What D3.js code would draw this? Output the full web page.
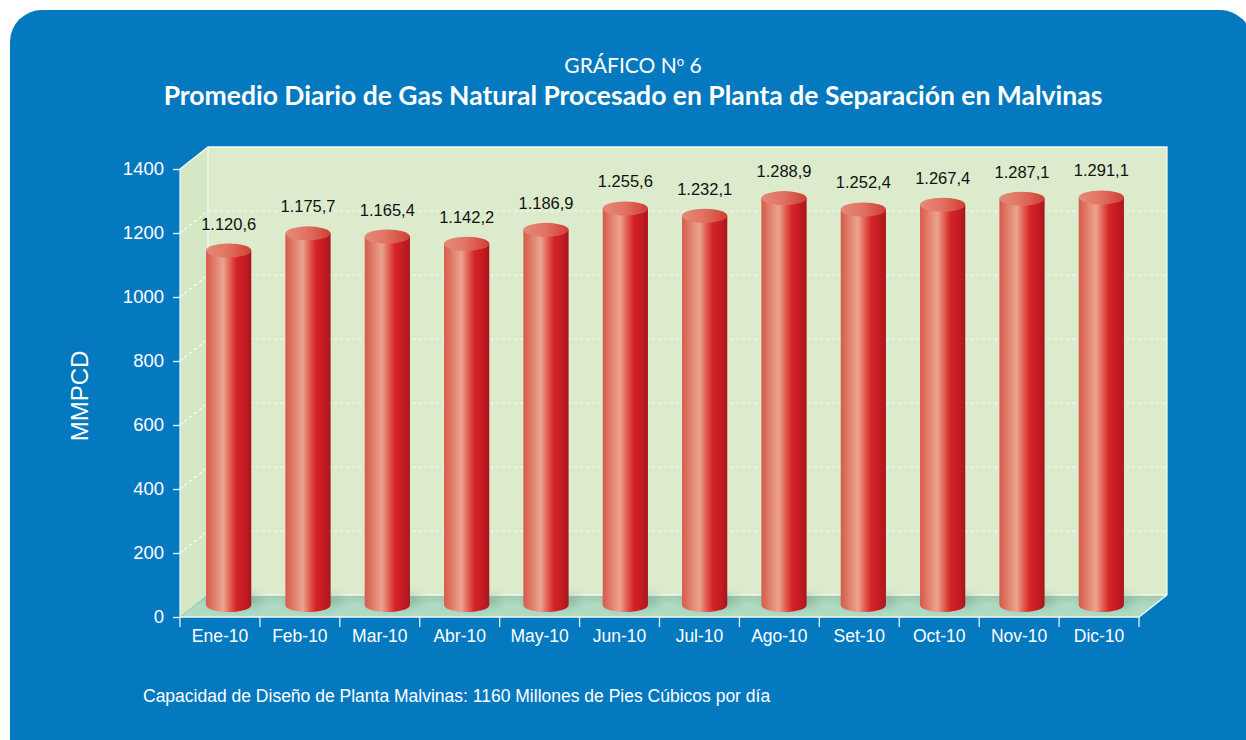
<!DOCTYPE html>
<html>
<head>
<meta charset="utf-8">
<script src="https://cdn.jsdelivr.net/npm/d3@7"></script>
<style>
  body { margin: 0; background: #fff; }
  text { font-family: "Liberation Sans", Arial, sans-serif; }
  .titulo { font-family: Lato, "Open Sans", sans-serif; }
</style>
</head>
<body>
<div id="container"></div>
<script>
// Data
var categorias = ["Ene-10", "Feb-10", "Mar-10", "Abr-10", "May-10", "Jun-10",
  "Jul-10", "Ago-10", "Set-10", "Oct-10", "Nov-10", "Dic-10"];
var valores = [1120.6, 1175.7, 1165.4, 1142.2, 1186.9, 1255.6,
  1232.1, 1288.9, 1252.4, 1267.4, 1287.1, 1291.1];
var yTicks = [0, 200, 400, 600, 800, 1000, 1200, 1400];

var subtitulo = "GRÁFICO N";
var titulo = "Promedio Diario de Gas Natural Procesado en Planta de Separación en Malvinas";
var ejeY = "MMPCD";
var nota = "Capacidad de Diseño de Planta Malvinas: 1160 Millones de Pies Cúbicos por día";

var W = 1246, H = 740;
var pLeft = 180, pRight = 1139, pBottom = 617, pTop = 169;
var dx = 28, dy = -22;   // depth of the 3D box

var fmt = d3.formatLocale({ decimal: ",", thousands: ".", grouping: [3], currency: ["", ""] }).format(",.1f");

var svg = d3.select("#container").append("svg")
  .attr("width", W).attr("height", H);

var defs = svg.append("defs");

var gBody = defs.append("linearGradient").attr("id", "cyl").attr("x1", 0).attr("x2", 1).attr("y1", 0).attr("y2", 0);
[[0, "#d65a4b"], [0.18, "#e07e6a"], [0.38, "#eba48f"], [0.55, "#e0584c"], [0.68, "#d4222a"], [0.85, "#c51b23"], [1, "#a8161c"]]
  .forEach(function (s) { gBody.append("stop").attr("offset", s[0]).attr("stop-color", s[1]); });

var gTop = defs.append("linearGradient").attr("id", "cylTop").attr("x1", 0).attr("x2", 1).attr("y1", 0).attr("y2", 0);
[[0, "#e58a78"], [0.45, "#e27464"], [1, "#cf3e35"]]
  .forEach(function (s) { gTop.append("stop").attr("offset", s[0]).attr("stop-color", s[1]); });

var gFloor = defs.append("linearGradient").attr("id", "floor").attr("x1", 0).attr("x2", 0).attr("y1", 0).attr("y2", 1);
[[0, "#9fc9b2"], [0.45, "#afdac2"], [1, "#b1dcc4"]]
  .forEach(function (s) { gFloor.append("stop").attr("offset", s[0]).attr("stop-color", s[1]); });

var blur = defs.append("filter").attr("id", "blur").attr("x", "-50%").attr("y", "-50%").attr("width", "200%").attr("height", "200%");
blur.append("feGaussianBlur").attr("stdDeviation", 4);

// blue panel
svg.append("rect")
  .attr("x", 10).attr("y", 10).attr("width", 1242).attr("height", 770)
  .attr("rx", 32).attr("fill", "#0479bf");

// Scales
var y = d3.scaleLinear().domain([0, 1400]).range([pBottom, pTop]);
var x = d3.scaleBand().domain(categorias).range([pLeft, pRight]);
var xBar = d3.scaleBand().domain(categorias).range([189, 1141]).paddingInner(0.43).paddingOuter(0.215);
var yBar = d3.scaleLinear().domain([0, 1400]).range([599.5, 163.5]);
var barBase = 605;

// side wall
svg.append("polygon")
  .attr("points", [[pLeft, pBottom], [pLeft, pTop], [pLeft + dx, pTop + dy], [pLeft + dx, pBottom + dy]].join(" "))
  .attr("fill", "#d5e8c6");

// back wall
svg.append("rect")
  .attr("x", pLeft + dx).attr("y", pTop + dy)
  .attr("width", pRight - pLeft).attr("height", pBottom - pTop)
  .attr("fill", "#dbebcb");

// floor
svg.append("polygon")
  .attr("points", [[pLeft, pBottom], [pRight, pBottom], [pRight + dx, pBottom + dy], [pLeft + dx, pBottom + dy]].join(" "))
  .attr("fill", "url(#floor)");

// grid lines
var grid = svg.append("g").attr("class", "grid");
grid.selectAll("path")
  .data(yTicks.filter(function (d) { return d > 0 && d < 1400; }))
  .enter().append("path")
  .attr("d", function (d) {
    return "M" + pLeft + "," + y(d) + "L" + (pLeft + dx) + "," + (y(d) + dy) + "L" + (pRight + dx) + "," + (y(d) + dy);
  })
  .attr("fill", "none")
  .attr("stroke", "#ffffff")
  .attr("stroke-width", 1.2)
  .attr("stroke-dasharray", "3,3")
  .attr("opacity", 0.9);

// box edges
var edges = svg.append("g").attr("stroke", "#f4f9ee").attr("stroke-width", 1.3).attr("fill", "none");
edges.append("path").attr("d",
  "M" + pLeft + "," + pTop + "L" + (pLeft + dx) + "," + (pTop + dy) + "L" + (pRight + dx) + "," + (pTop + dy) +
  "L" + (pRight + dx) + "," + (pBottom + dy));
edges.append("path").attr("d", "M" + (pLeft + dx) + "," + (pTop + dy) + "L" + (pLeft + dx) + "," + (pBottom + dy) + "L" + (pRight + dx) + "," + (pBottom + dy));
edges.append("path").attr("d", "M" + pLeft + "," + pBottom + "L" + pRight + "," + pBottom + "L" + (pRight + dx) + "," + (pBottom + dy));

// bar shadows on floor
svg.append("g").selectAll("ellipse")
  .data(valores)
  .enter().append("ellipse")
  .attr("cx", function (d, i) { return xBar(categorias[i]) + xBar.bandwidth() / 2 + 6; })
  .attr("cy", barBase - 4)
  .attr("rx", xBar.bandwidth() / 2 + 6)
  .attr("ry", 8)
  .attr("fill", "#5f8f78")
  .attr("opacity", 0.35)
  .attr("filter", "url(#blur)");

// cylinders
var bars = svg.append("g").selectAll("g")
  .data(valores)
  .enter().append("g")
  .attr("transform", function (d, i) { return "translate(" + (xBar(categorias[i]) + xBar.bandwidth() / 2) + ",0)"; });

var rx = xBar.bandwidth() / 2, ry = 7;

bars.append("path")
  .attr("d", function (d) {
    var t = yBar(d);
    return "M" + (-rx) + "," + t + "L" + (-rx) + "," + barBase +
      "A" + rx + "," + ry + " 0 0 0 " + rx + "," + barBase +
      "L" + rx + "," + t + "Z";
  })
  .attr("fill", "url(#cyl)");

bars.append("ellipse")
  .attr("cx", 0)
  .attr("cy", function (d) { return yBar(d); })
  .attr("rx", rx).attr("ry", ry)
  .attr("fill", "url(#cylTop)");

bars.append("text")
  .attr("x", 0)
  .attr("y", function (d) { return yBar(d) - 21; })
  .attr("text-anchor", "middle")
  .attr("font-size", "16.5px")
  .attr("fill", "#111")
  .text(function (d) { return fmt(d); });

// Y axis
var yAxis = d3.axisLeft(y).tickValues(yTicks).tickFormat(d3.format("d")).tickSize(7).tickPadding(9);
var gy = svg.append("g")
  .attr("transform", "translate(" + pLeft + ",0)")
  .call(yAxis);
gy.select(".domain").attr("stroke", "#e8f2f8").attr("stroke-width", 1.3).attr("d", "M0," + pTop + "V" + pBottom);
gy.selectAll(".tick line").attr("stroke", "#e8f2f8").attr("stroke-width", 1.3);
gy.selectAll(".tick text")
  .attr("fill", "#fff")
  .attr("font-size", "18.5px")
  .attr("font-family", "Liberation Sans, Arial, sans-serif");

// X axis
var xAxis = d3.axisBottom(x).tickSize(0).tickPadding(13);
var gx = svg.append("g")
  .attr("transform", "translate(0," + pBottom + ")")
  .call(xAxis);
gx.select(".domain").remove();
gx.selectAll(".tick text")
  .attr("fill", "#fff")
  .attr("font-size", "17.5px")
  .attr("font-family", "Liberation Sans, Arial, sans-serif");

// category boundary ticks
svg.append("g").selectAll("line")
  .data(categorias.concat(["_end"]))
  .enter().append("line")
  .attr("x1", function (d, i) { return pLeft + i * x.step(); })
  .attr("x2", function (d, i) { return pLeft + i * x.step(); })
  .attr("y1", pBottom).attr("y2", pBottom + 10)
  .attr("stroke", "#e8f2f8").attr("stroke-width", 1.3);

// Y label
svg.append("text")
  .attr("transform", "translate(88,396) rotate(-90)")
  .attr("text-anchor", "middle")
  .attr("fill", "#fff")
  .attr("font-size", "24px")
  .text(ejeY);

// Titles
var sub = svg.append("text")
  .attr("class", "titulo")
  .attr("x", 633).attr("y", 73)
  .attr("text-anchor", "middle")
  .attr("fill", "#fff")
  .attr("font-size", "21px");
sub.append("tspan").text(subtitulo);
sub.append("tspan").attr("font-size", "13px").attr("dy", -7).text("o");
sub.append("tspan").attr("dy", 7).text(" 6");

svg.append("text")
  .attr("class", "titulo")
  .attr("x", 633).attr("y", 105)
  .attr("text-anchor", "middle")
  .attr("fill", "#fff")
  .attr("font-size", "26.5px")
  .attr("font-weight", "bold")
  .text(titulo);

// footnote
svg.append("text")
  .attr("x", 143).attr("y", 702)
  .attr("fill", "#fff")
  .attr("font-size", "17.5px")
  .text(nota);
</script>
</body>
</html>
